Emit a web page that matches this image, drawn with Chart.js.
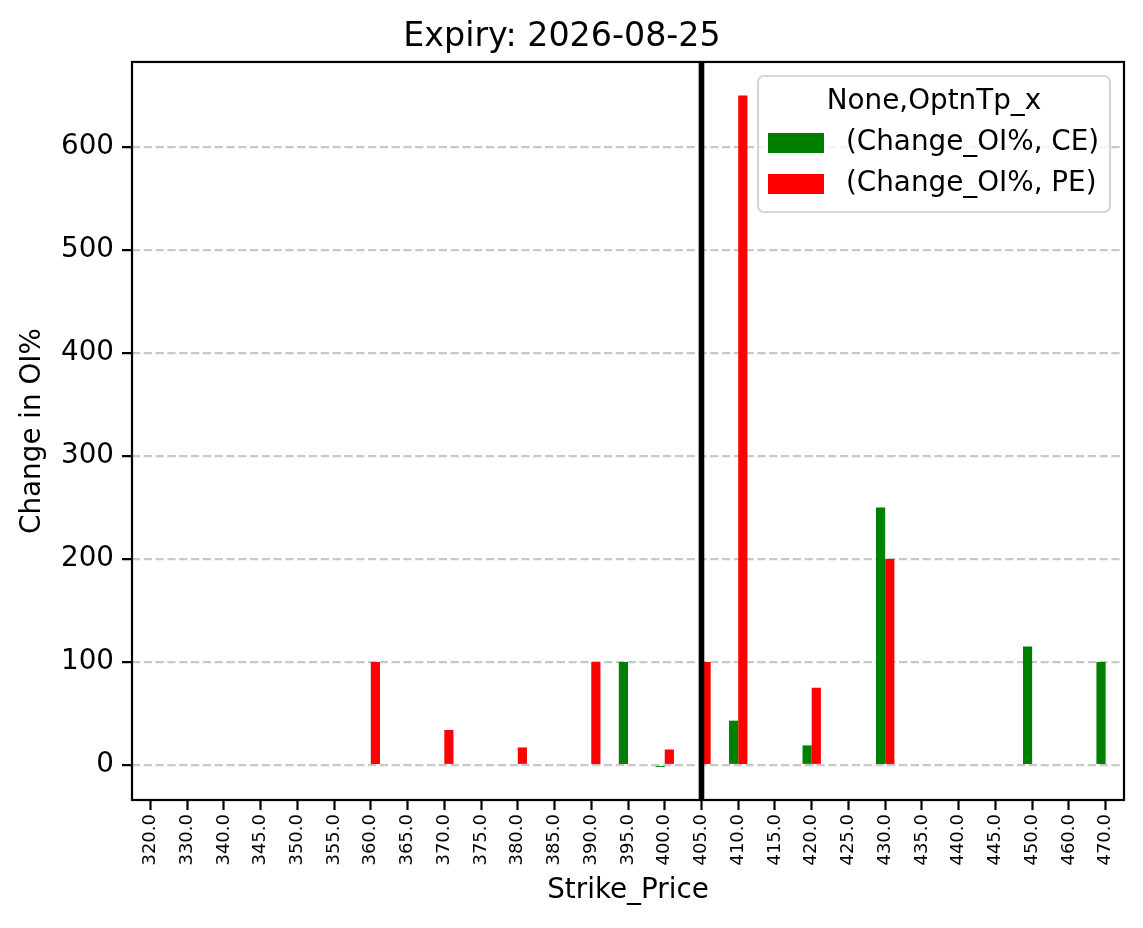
<!DOCTYPE html>
<html>
<head>
<meta charset="utf-8">
<script src="https://cdn.jsdelivr.net/npm/chart.js@4.4.1/dist/chart.umd.min.js"></script>
<style>
  html, body { margin: 0; padding: 0; background: #fff; }
  #wrap { width: 1143px; height: 928px; }
</style>
</head>
<body>
<div id="wrap"><canvas id="chart" width="1143" height="928"></canvas></div>
<script>
// Strikes on the x axis
const strikes = ['320.0', '330.0', '340.0', '345.0', '350.0', '355.0', '360.0', '365.0', '370.0',
  '375.0', '380.0', '385.0', '390.0', '395.0', '400.0', '405.0', '410.0', '415.0', '420.0',
  '425.0', '430.0', '435.0', '440.0', '445.0', '450.0', '460.0', '470.0'];

// Change in OI% for calls / puts (null = no bar)
const ceChange = [null, null, null, null, null, null, null, null, null,
  null, null, null, null, 100, -2, null, 43, null, 19,
  null, 250, null, null, null, 115, null, 100];
const peChange = [null, null, null, null, null, null, 100, null, 34,
  null, 17, null, 100, null, 15, 100, 650, null, 75,
  null, 200, null, null, null, null, null, null];

const yTicks = [0, 100, 200, 300, 400, 500, 600];
const spotStrike = '405.0';
const chartTitle = 'Expiry: 2026-08-25';
const legendTitle = 'None,OptnTp_x';

const FONT = 'DejaVu Sans';

// Draws the frame, the spot line and the legend box on top
const overlayPlugin = {
  id: 'overlay',
  afterDraw(chart) {
    const ctx = chart.ctx;
    const area = chart.chartArea;
    const x = chart.scales.x;

    // spot price line
    const sx = x.getPixelForValue(strikes.indexOf(spotStrike));
    ctx.save();
    ctx.setLineDash([]);
    ctx.strokeStyle = '#000';
    ctx.lineWidth = 5.6;
    ctx.beginPath();
    ctx.moveTo(sx, area.top);
    ctx.lineTo(sx, area.bottom);
    ctx.stroke();

    // axes frame
    ctx.lineWidth = 2.2;
    ctx.strokeRect(area.left, area.top, area.right - area.left, area.bottom - area.top);

    // legend
    const bx = 758, by = 76, bw = 352, bh = 136, r = 6;
    ctx.fillStyle = 'rgba(255,255,255,0.8)';
    ctx.strokeStyle = 'rgba(204,204,204,0.8)';
    ctx.lineWidth = 2.2;
    ctx.beginPath();
    ctx.roundRect(bx, by, bw, bh, r);
    ctx.fill();
    ctx.stroke();

    ctx.fillStyle = '#000';
    ctx.font = '27.8px "' + FONT + '"';
    ctx.textAlign = 'center';
    ctx.textBaseline = 'middle';
    ctx.fillText(legendTitle, bx + bw / 2, by + 26);

    ctx.textAlign = 'left';
    chart.data.datasets.forEach((ds, i) => {
      const ly = by + 67 + i * 41;
      ctx.fillStyle = ds.backgroundColor;
      ctx.fillRect(bx + 10, ly - 10, 56, 20);
      ctx.fillStyle = '#000';
      ctx.fillText(ds.label, bx + 88, ly);
    });
    ctx.restore();
  }
};

new Chart(document.getElementById('chart'), {
  type: 'bar',
  data: {
    labels: strikes,
    datasets: [
      { label: '(Change_OI%, CE)', data: ceChange, backgroundColor: '#008000' },
      { label: '(Change_OI%, PE)', data: peChange, backgroundColor: '#ff0000' }
    ]
  },
  options: {
    responsive: false,
    animation: false,
    devicePixelRatio: 1,
    layout: { padding: { top: 0, right: 19, bottom: 0, left: 0 } },
    datasets: { bar: { categoryPercentage: 0.5, barPercentage: 1.0 } },
    plugins: {
      legend: { display: false },
      tooltip: { enabled: false },
      title: {
        display: true,
        text: chartTitle,
        color: '#000',
        font: { family: FONT, size: 33.3, weight: 'normal' },
        padding: { top: 17, bottom: 5 }
      }
    },
    scales: {
      x: {
        border: { display: false },
        grid: {
          offset: false, drawOnChartArea: false, drawTicks: true,
          tickLength: 10, tickColor: '#000', tickWidth: 2.2
        },
        ticks: {
          color: '#000', font: { family: FONT, size: 18 },
          minRotation: 90, maxRotation: 90, autoSkip: false, padding: 4
        },
        title: {
          display: true, text: 'Strike_Price', color: '#000',
          font: { family: FONT, size: 27.8 }, padding: { top: 0, bottom: 21 }
        },
        afterFit(scale) { scale.height = 128; }
      },
      y: {
        min: -34,
        max: 682.5,
        z: 1,
        border: { display: false, dash: [8.2, 3.6] },
        grid: {
          color: 'rgba(176,176,176,0.7)', lineWidth: 2.2,
          drawTicks: true, tickLength: 10, tickColor: '#000', tickWidth: 2.2,
          tickBorderDash: [1, 0]
        },
        afterBuildTicks(scale) { scale.ticks = yTicks.map(v => ({ value: v })); },
        ticks: {
          color: '#000', font: { family: FONT, size: 27.8 }, padding: 8
        },
        title: {
          display: true, text: 'Change in OI%', color: '#000',
          font: { family: FONT, size: 27.8 }, padding: { top: 16, bottom: 0 }
        },
        afterFit(scale) { scale.width = 132; }
      }
    }
  },
  plugins: [overlayPlugin]
});
</script>
</body>
</html>
